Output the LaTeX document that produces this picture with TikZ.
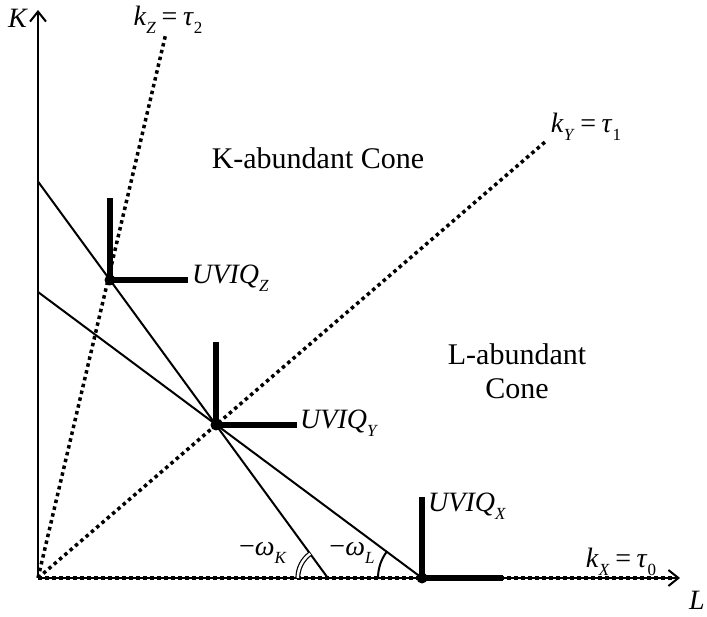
\documentclass[tikz,border=0pt]{standalone}
\usepackage{fontspec}
\setmainfont{Liberation Serif}
\usetikzlibrary{arrows.meta,calc}
\newcommand{\lb}[2]{\textit{#1}\raisebox{-0.3em}{\fontsize{17}{17}\selectfont\textit{#2}}}
\newcommand{\lbn}[2]{\textit{#1}\raisebox{-0.3em}{\fontsize{17}{17}\selectfont #2}}
\newcommand{\eqs}{\hspace{0.2em}=\hspace{0.2em}}
\tikzset{
  thin line/.style={line width=2pt},
  bold line/.style={line width=5.5pt},
  dotline/.style={line width=3.5pt, dash pattern=on 3.5pt off 3.5pt},
  lbl/.style={font=\fontsize{28}{30}\selectfont, inner sep=0pt},
  cone/.style={font=\fontsize{30}{34}\selectfont, align=center, inner sep=0pt},
  dot/.style={circle, fill=black, inner sep=0pt, minimum size=11pt}
}
\begin{document}
\begin{tikzpicture}[x=1pt,y=1pt]
\useasboundingbox (0,0) rectangle (707,616);
\coordinate (O) at (38,38);
\coordinate (Ktop) at (38,606);
\coordinate (Lend) at (680,38);
\coordinate (Z) at (110,336);
\coordinate (Y) at (216,191);
\coordinate (X) at (422,38);
\coordinate (kZend) at (166,583);
\coordinate (kYend) at (545,474);
\coordinate (kXend) at (672,38);
\coordinate (Sa) at ($(Y)!1.679!(Z)$);
\coordinate (Sb) at ($(Y)!-1.055!(Z)$);
\coordinate (Ta) at (38,324);
% axes
\draw[thin line, -{Straight Barb[length=10pt,width=16pt,line width=2pt]}] (O) -- (Ktop);
\draw[thin line, -{Straight Barb[length=10pt,width=16pt,line width=2pt]}] (O) -- (Lend);
% rays
\draw[dotline] (O) -- (kZend);
\draw[dotline] (O) -- (kYend);
\draw[dotline] (O) -- (kXend);
% isocost lines
\draw[thin line] (Sa) -- (Sb);
\draw[thin line] (Ta) -- (X);
% angle arcs
\draw[thin line] ($(X)+(-44,0)$) arc[start angle=180, end angle=143.3, radius=44];
\draw[line width=1.2pt, double, double distance=2.5pt] ($(Sb)+(-30,0)$) arc[start angle=180, end angle=126, radius=30];
% UVIQ corners
\draw[bold line] (110,418) -- (Z) -- (188,336);
\draw[bold line] (216,274) -- (Y) -- (297,191);
\draw[bold line] (422,119) -- (X) -- (503,38);
\node[dot] (dZ) at (Z) {};
\node[dot] (dY) at (Y) {};
\node[dot] (dX) at (X) {};
% labels
\node[lbl] (lK) at (18,598) {\textit{K}};
\node[lbl] (lL) at (697,16) {\textit{L}};
\node[lbl] (lkZ) at (168,596) {\lb{k}{Z}\eqs\lbn{τ}{2}};
\node[lbl] (lkY) at (586,489) {\lb{k}{Y}\eqs\lbn{τ}{1}};
\node[lbl] (lkX) at (621,54) {\lb{k}{X}\eqs\lbn{τ}{0}};
\node[lbl, anchor=west] (uZ) at (192,338) {\lb{UVIQ}{Z}};
\node[lbl, anchor=west] (uY) at (300,193) {\lb{UVIQ}{Y}};
\node[lbl, anchor=west] (uX) at (428,110) {\lb{UVIQ}{X}};
\node[lbl] (wK) at (263,63) {−\lb{ω}{K}};
\node[lbl] (wL) at (352,63) {−\lb{ω}{L}};
\node[cone] (Kc) at (318,458) {K-abundant Cone};
\node[cone] (Lc) at (517,245) {L-abundant\\Cone};
\end{tikzpicture}
\end{document}
